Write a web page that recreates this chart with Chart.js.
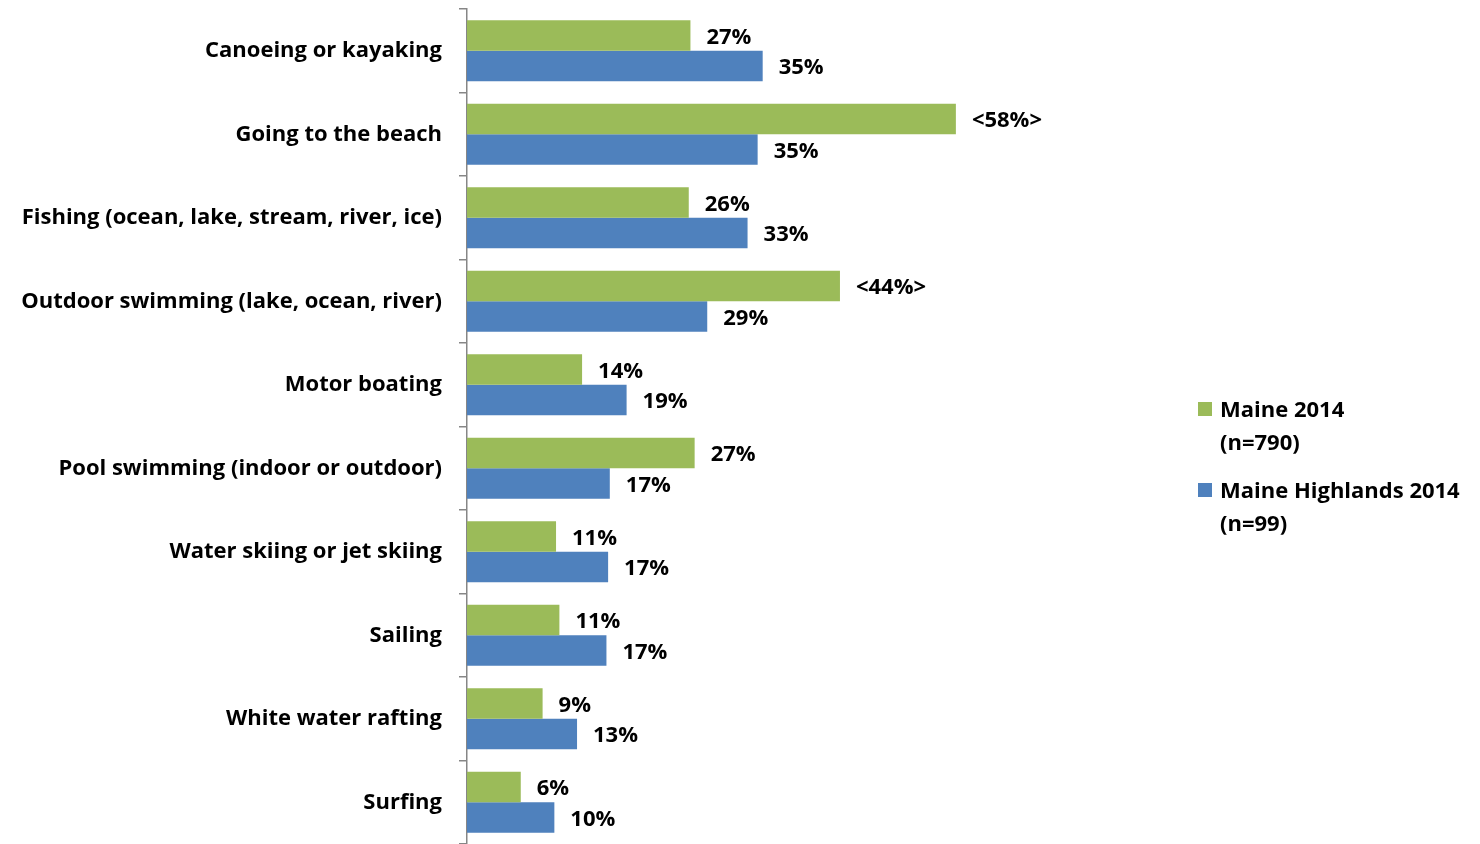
<!DOCTYPE html>
<html>
<head>
<meta charset="utf-8">
<script src="https://cdn.jsdelivr.net/npm/chart.js@4/dist/chart.umd.min.js"></script>
<style>
  body { margin: 0; background: #fff; font-family: "Open Sans", Lato, sans-serif; }
  #wrap { position: relative; width: 1480px; height: 844px; overflow: hidden; }
  canvas { display: block; }
  .legend { position: absolute; left: 1198px; font-weight: bold; font-size: 22px; line-height: 33px; color: #000; }
  .legend .sw { position: absolute; left: 0; top: 10px; width: 14px; height: 14px; }
  .legend .txt { margin-left: 22px; }
</style>
</head>
<body>
<div id="wrap">
  <canvas id="chart" width="1480" height="844"></canvas>
  <div class="legend" style="top:392px"><span class="sw" style="background:#9BBB59"></span><div class="txt">Maine 2014<br>(n=790)</div></div>
  <div class="legend" style="top:473px"><span class="sw" style="background:#4F81BD"></span><div class="txt">Maine Highlands 2014<br>(n=99)</div></div>
</div>
<script>
// Categories and values (percent)
const categories = [
  "Canoeing or kayaking",
  "Going to the beach",
  "Fishing (ocean, lake, stream, river, ice)",
  "Outdoor swimming (lake, ocean, river)",
  "Motor boating",
  "Pool swimming (indoor or outdoor)",
  "Water skiing or jet skiing",
  "Sailing",
  "White water rafting",
  "Surfing",
];
const maineValues = [26.6, 58.2, 26.4, 44.4, 13.7, 27.1, 10.6, 11.0, 9.0, 6.4];
const highlandsValues = [35.2, 34.6, 33.4, 28.6, 19.0, 17.0, 16.8, 16.6, 13.1, 10.4];
// significant differences shown as <xx%>
const maineSignificant = [false, true, false, true, false, false, false, false, false, false];
const highlandsSignificant = [false, false, false, false, false, false, false, false, false, false];

const FONT = "'Open Sans', Lato, sans-serif";

const valueLabels = {
  id: "valueLabels",
  afterDatasetsDraw(chart) {
    const ctx = chart.ctx;
    ctx.save();
    ctx.font = "bold 22px " + FONT;
    ctx.fillStyle = "#000";
    ctx.textBaseline = "middle";
    ctx.textAlign = "left";
    chart.data.datasets.forEach((ds, i) => {
      const meta = chart.getDatasetMeta(i);
      meta.data.forEach((bar, j) => {
        let txt = Math.round(ds.data[j]) + "%";
        if (ds.significant[j]) txt = "<" + txt + ">";
        ctx.fillText(txt, bar.x + 16, bar.y + 2);
      });
    });
    ctx.restore();
  },
};

const ctx = document.getElementById("chart").getContext("2d");
new Chart(ctx, {
  type: "bar",
  data: {
    labels: categories,
    datasets: [
      {
        label: "Maine 2014 (n=790)",
        data: maineValues,
        significant: maineSignificant,
        backgroundColor: "#9BBB59",
        categoryPercentage: 0.73,
        barPercentage: 1.0,
      },
      {
        label: "Maine Highlands 2014 (n=99)",
        data: highlandsValues,
        significant: highlandsSignificant,
        backgroundColor: "#4F81BD",
        categoryPercentage: 0.73,
        barPercentage: 1.0,
      },
    ],
  },
  options: {
    indexAxis: "y",
    responsive: false,
    animation: false,
    layout: { padding: { top: 9, right: 425, bottom: -2, left: 0 } },
    plugins: { legend: { display: false }, tooltip: { enabled: false } },
    scales: {
      x: { display: false, min: 0, max: 70 },
      y: {
        afterFit(scale) {
          scale.width = 467;
          scale.paddingTop = 0;
          scale.paddingBottom = 0;
        },
        border: { display: true, color: "#868686", width: 1.5 },
        grid: { drawOnChartArea: false, drawTicks: true, tickLength: 8, color: "#868686", offset: true, lineWidth: 1.5 },
        ticks: { color: "#000", padding: 17, font: { family: FONT, size: 22, weight: "bold" } },
      },
    },
  },
  plugins: [valueLabels],
});
</script>
</body>
</html>
